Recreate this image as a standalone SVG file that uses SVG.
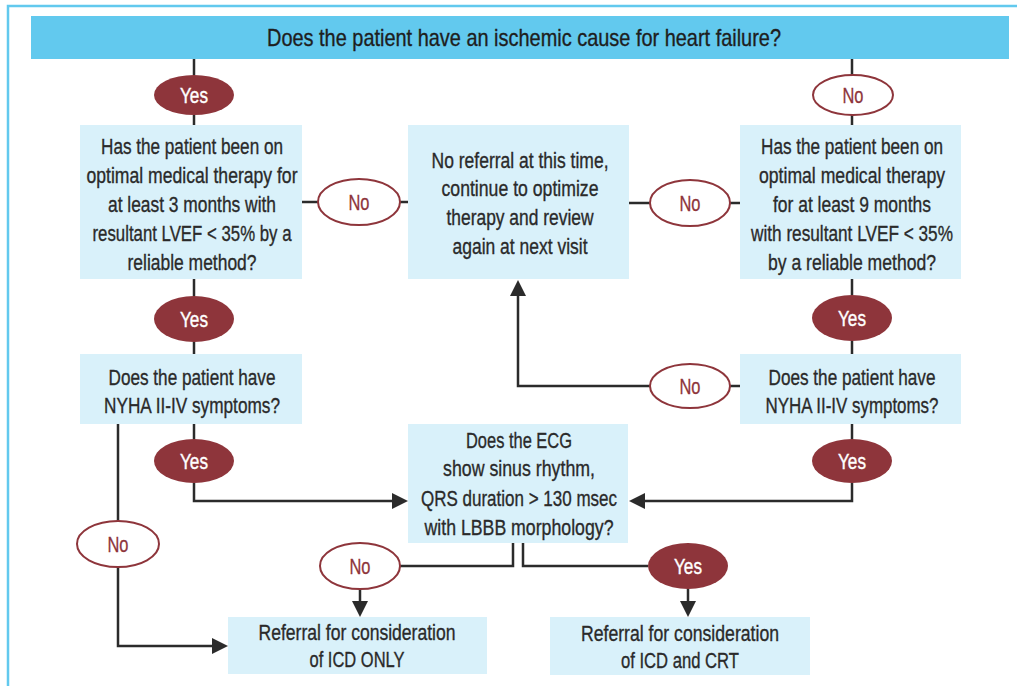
<svg xmlns="http://www.w3.org/2000/svg" width="1017" height="686" viewBox="0 0 1017 686">
<defs>
<style>
.frame{fill:none;stroke:#62C9EE;stroke-width:2.5}
.banner{fill:#62C9EE}
.box{fill:#D9F1FA}
.t{font-family:"Liberation Sans Narrow","Liberation Sans",Arial,sans-serif;font-size:22.5px;fill:#2a2a2a;stroke:#2a2a2a;stroke-width:0.35;text-anchor:middle}
.title{font-size:24px;fill:#1e1e1e;stroke:#1e1e1e}
.yes{fill:#8E353B}
.no{fill:#fff;stroke:#8E353B;stroke-width:2}
.yt{font-family:"Liberation Sans Narrow","Liberation Sans",Arial,sans-serif;font-size:22px;fill:#fff;stroke:#fff;stroke-width:0.4;text-anchor:middle}
.nt{font-family:"Liberation Sans Narrow","Liberation Sans",Arial,sans-serif;font-size:22px;fill:#8E353B;stroke:#8E353B;stroke-width:0.3;text-anchor:middle}
.c{fill:none;stroke:#2b2b2b;stroke-width:2.5}
</style>
<marker id="ah" markerUnits="userSpaceOnUse" markerWidth="18" markerHeight="18" refX="0" refY="8" orient="auto" viewBox="0 0 18 16">
<path d="M0,0 L16,8 L0,16 Z" fill="#2b2b2b"/>
</marker>
</defs>
<rect width="1017" height="686" fill="#fff"/>
<path class="frame" d="M8,686 V6 H1017"/>

<g id="title">
<rect class="banner" x="31" y="16" width="978" height="43"/>
<text class="t title" x="524" y="46" textLength="514" lengthAdjust="spacingAndGlyphs">Does the patient have an ischemic cause for heart failure?</text>
</g>

<g id="connectors">
<path class="c" d="M194,59 V75 M194,115 V125"/>
<path class="c" d="M852,59 V75 M852,115 V125"/>
<path class="c" d="M302,202 H318 M400,202 H408"/>
<path class="c" d="M629,203 H650 M730,203 H740"/>
<path class="c" d="M194,279 V296 M194,342 V354"/>
<path class="c" d="M852,279 V295 M852,341 V354"/>
<path class="c" d="M740,386 H730"/>
<path class="c" d="M194,424 V439"/>
<path class="c" d="M118,424 V521"/>
<path class="c" d="M852,424 V439"/>
<path class="c" d="M650,386 H518 V296" marker-end="url(#ah)"/>
<path class="c" d="M194,483 V501 H392" marker-end="url(#ah)"/>
<path class="c" d="M852,483 V501 H645" marker-end="url(#ah)"/>
<path class="c" d="M118,567 V646 H212" marker-end="url(#ah)"/>
<path class="c" d="M513,543 V566 H400"/>
<path class="c" d="M360,589 V601" marker-end="url(#ah)"/>
<path class="c" d="M523,543 V566 H648"/>
<path class="c" d="M688,589 V601" marker-end="url(#ah)"/>
</g>

<g id="yes-top"><ellipse class="yes" cx="194" cy="95" rx="40" ry="20"/><text class="yt" x="194" y="103" textLength="28" lengthAdjust="spacingAndGlyphs">Yes</text></g>
<g id="no-top"><ellipse class="no" cx="853" cy="95" rx="40" ry="20"/><text class="nt" x="853" y="103" textLength="21" lengthAdjust="spacingAndGlyphs">No</text></g>

<g id="q-ischemic-omt">
<rect class="box" x="80" y="125" width="222" height="154"/>
<text class="t" x="192" y="154" textLength="182" lengthAdjust="spacingAndGlyphs">Has the patient been on</text>
<text class="t" x="192" y="183" textLength="211" lengthAdjust="spacingAndGlyphs">optimal medical therapy for</text>
<text class="t" x="192" y="212" textLength="168" lengthAdjust="spacingAndGlyphs">at least 3 months with</text>
<text class="t" x="192" y="241" textLength="199" lengthAdjust="spacingAndGlyphs">resultant LVEF &lt; 35% by a</text>
<text class="t" x="192" y="270" textLength="129" lengthAdjust="spacingAndGlyphs">reliable method?</text>
</g>

<g id="no-referral">
<rect class="box" x="408" y="125" width="221" height="154"/>
<text class="t" x="520" y="168" textLength="177" lengthAdjust="spacingAndGlyphs">No referral at this time,</text>
<text class="t" x="520" y="196" textLength="157" lengthAdjust="spacingAndGlyphs">continue to optimize</text>
<text class="t" x="520" y="225" textLength="147" lengthAdjust="spacingAndGlyphs">therapy and review</text>
<text class="t" x="520" y="254" textLength="135" lengthAdjust="spacingAndGlyphs">again at next visit</text>
</g>

<g id="q-nonischemic-omt">
<rect class="box" x="740" y="125" width="221" height="154"/>
<text class="t" x="852" y="154" textLength="182" lengthAdjust="spacingAndGlyphs">Has the patient been on</text>
<text class="t" x="852" y="183" textLength="186" lengthAdjust="spacingAndGlyphs">optimal medical therapy</text>
<text class="t" x="852" y="212" textLength="158" lengthAdjust="spacingAndGlyphs">for at least 9 months</text>
<text class="t" x="852" y="241" textLength="202" lengthAdjust="spacingAndGlyphs">with resultant LVEF &lt; 35%</text>
<text class="t" x="852" y="270" textLength="168" lengthAdjust="spacingAndGlyphs">by a reliable method?</text>
</g>

<g id="no-left-omt"><ellipse class="no" cx="359" cy="202" rx="41" ry="23"/><text class="nt" x="359" y="210" textLength="21" lengthAdjust="spacingAndGlyphs">No</text></g>
<g id="no-right-omt"><ellipse class="no" cx="690" cy="203" rx="40" ry="23"/><text class="nt" x="690" y="211" textLength="21" lengthAdjust="spacingAndGlyphs">No</text></g>
<g id="yes-left-omt"><ellipse class="yes" cx="194" cy="319" rx="40" ry="23"/><text class="yt" x="194" y="327" textLength="28" lengthAdjust="spacingAndGlyphs">Yes</text></g>
<g id="yes-right-omt"><ellipse class="yes" cx="852" cy="318" rx="40" ry="23"/><text class="yt" x="852" y="326" textLength="28" lengthAdjust="spacingAndGlyphs">Yes</text></g>

<g id="q-nyha-left">
<rect class="box" x="80" y="354" width="222" height="70"/>
<text class="t" x="192" y="385" textLength="167" lengthAdjust="spacingAndGlyphs">Does the patient have</text>
<text class="t" x="192" y="413" textLength="176" lengthAdjust="spacingAndGlyphs">NYHA II-IV symptoms?</text>
</g>

<g id="q-nyha-right">
<rect class="box" x="740" y="354" width="221" height="70"/>
<text class="t" x="852" y="385" textLength="167" lengthAdjust="spacingAndGlyphs">Does the patient have</text>
<text class="t" x="852" y="413" textLength="173" lengthAdjust="spacingAndGlyphs">NYHA II-IV symptoms?</text>
</g>

<g id="no-right-nyha"><ellipse class="no" cx="690" cy="386" rx="40" ry="22"/><text class="nt" x="690" y="394" textLength="21" lengthAdjust="spacingAndGlyphs">No</text></g>

<g id="q-ecg">
<rect class="box" x="408" y="424" width="220" height="119"/>
<text class="t" x="519" y="448" textLength="106" lengthAdjust="spacingAndGlyphs">Does the ECG</text>
<text class="t" x="519" y="476" textLength="152" lengthAdjust="spacingAndGlyphs">show sinus rhythm,</text>
<text class="t" x="519" y="506" textLength="196" lengthAdjust="spacingAndGlyphs">QRS duration &gt; 130 msec</text>
<text class="t" x="519" y="535" textLength="189" lengthAdjust="spacingAndGlyphs">with LBBB morphology?</text>
</g>

<g id="yes-left-nyha"><ellipse class="yes" cx="194" cy="461" rx="40" ry="22"/><text class="yt" x="194" y="469" textLength="28" lengthAdjust="spacingAndGlyphs">Yes</text></g>
<g id="yes-right-nyha"><ellipse class="yes" cx="852" cy="461" rx="40" ry="22"/><text class="yt" x="852" y="469" textLength="28" lengthAdjust="spacingAndGlyphs">Yes</text></g>
<g id="no-left-nyha"><ellipse class="no" cx="118" cy="544" rx="41" ry="23"/><text class="nt" x="118" y="552" textLength="21" lengthAdjust="spacingAndGlyphs">No</text></g>
<g id="no-ecg"><ellipse class="no" cx="360" cy="566" rx="40" ry="23"/><text class="nt" x="360" y="574" textLength="21" lengthAdjust="spacingAndGlyphs">No</text></g>
<g id="yes-ecg"><ellipse class="yes" cx="688" cy="566" rx="40" ry="23"/><text class="yt" x="688" y="574" textLength="28" lengthAdjust="spacingAndGlyphs">Yes</text></g>

<g id="icd-only">
<rect class="box" x="228" y="617" width="259" height="57"/>
<text class="t" x="357" y="640" textLength="197" lengthAdjust="spacingAndGlyphs">Referral for consideration</text>
<text class="t" x="357" y="667" textLength="95" lengthAdjust="spacingAndGlyphs">of ICD ONLY</text>
</g>

<g id="icd-crt">
<rect class="box" x="550" y="617" width="260" height="58"/>
<text class="t" x="680" y="641" textLength="198" lengthAdjust="spacingAndGlyphs">Referral for consideration</text>
<text class="t" x="680" y="668" textLength="118" lengthAdjust="spacingAndGlyphs">of ICD and CRT</text>
</g>
</svg>
